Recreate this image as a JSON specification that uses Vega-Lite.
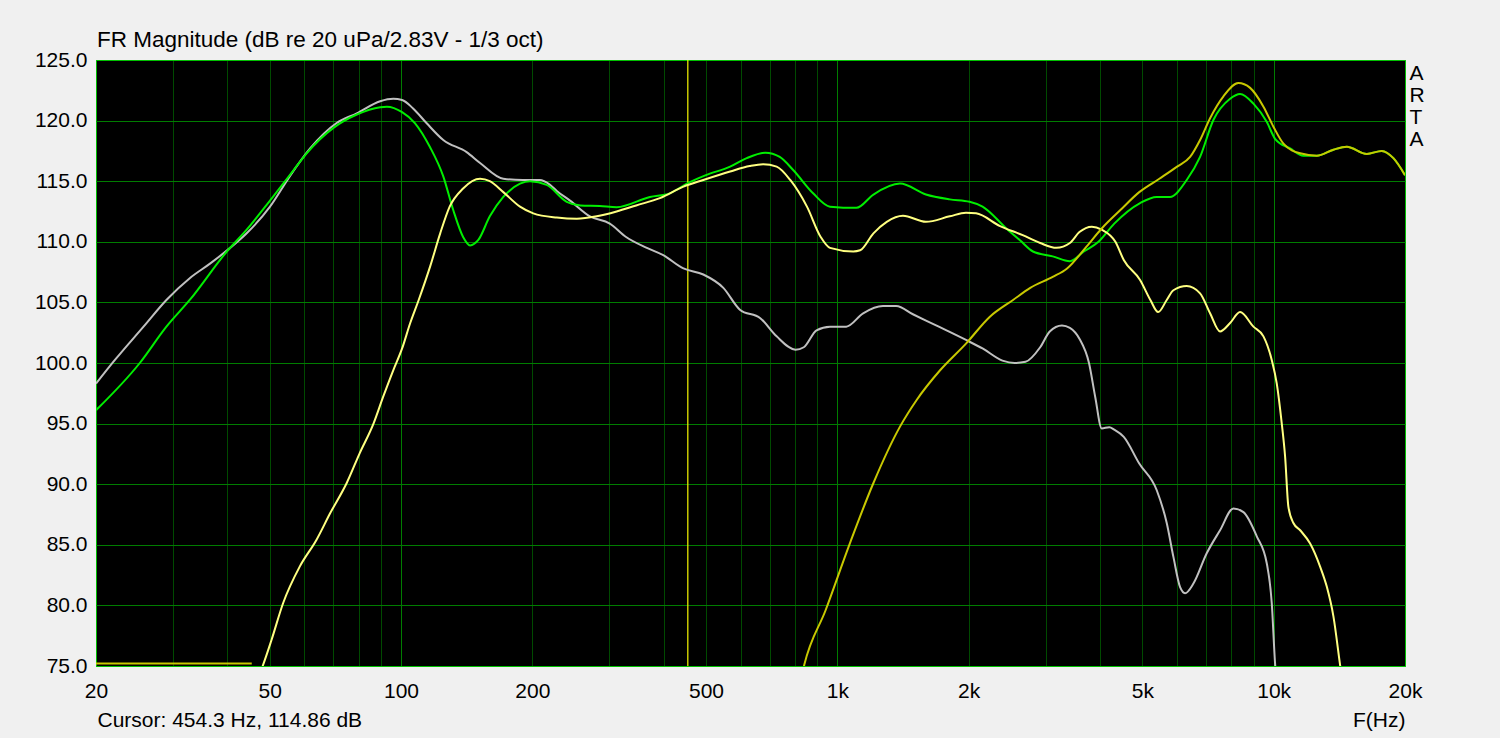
{
  "$schema": "https://vega.github.io/schema/vega-lite/v6.json",
  "width": 1309,
  "height": 606,
  "autosize": {"type": "none"},
  "padding": {"left": 96, "top": 60, "right": 95, "bottom": 72},
  "background": "#f0f0f0",
  "config": {"font": "Liberation Sans", "view": {"fill": "#000000", "stroke": "#00c000", "strokeWidth": 1}},
  "title": {"text": "FR Magnitude (dB re 20 uPa/2.83V - 1/3 oct)", "anchor": "start", "frame": "group", "fontSize": 22.5, "fontWeight": "normal", "color": "#000000", "baseline": "alphabetic", "offset": 1, "dx": 1, "dy": 21},
  "datasets": {
    "cursor": [{"f": 454.3}],
    "floor": [{"f": 20, "db": 75.2}, {"f": 45.5, "db": 75.2}],
    "gray": [
      {"f": 20, "db": 98.3}, {"f": 22.1, "db": 100.25}, {"f": 25.7, "db": 103.0}, {"f": 29.0, "db": 105.2}, {"f": 32.8, "db": 107.0},
      {"f": 36.5, "db": 108.2}, {"f": 40.6, "db": 109.5}, {"f": 44.3, "db": 110.7}, {"f": 50.1, "db": 112.9}, {"f": 55.6, "db": 115.4},
      {"f": 61.9, "db": 117.7}, {"f": 71.2, "db": 119.8}, {"f": 79.2, "db": 120.6}, {"f": 89.6, "db": 121.6}, {"f": 96, "db": 121.8},
      {"f": 100.6, "db": 121.7}, {"f": 106.6, "db": 121.0}, {"f": 114.4, "db": 119.8}, {"f": 125, "db": 118.4}, {"f": 141.4, "db": 117.4},
      {"f": 151.8, "db": 116.5}, {"f": 171.6, "db": 115.2}, {"f": 190, "db": 115.1}, {"f": 208, "db": 115.1}, {"f": 219.6, "db": 114.7},
      {"f": 227.5, "db": 114.2}, {"f": 244, "db": 113.4}, {"f": 271, "db": 112.1}, {"f": 301, "db": 111.5}, {"f": 328, "db": 110.4},
      {"f": 366, "db": 109.5}, {"f": 399, "db": 108.9}, {"f": 444, "db": 107.8}, {"f": 493, "db": 107.3}, {"f": 548, "db": 106.2},
      {"f": 598, "db": 104.4}, {"f": 666, "db": 103.7}, {"f": 726, "db": 102.2}, {"f": 802, "db": 101.1}, {"f": 838, "db": 101.3},
      {"f": 896, "db": 102.7}, {"f": 962, "db": 103.0}, {"f": 1048, "db": 103.0}, {"f": 1146, "db": 104.1}, {"f": 1272, "db": 104.7},
      {"f": 1364, "db": 104.7}, {"f": 1494, "db": 104.0}, {"f": 1684, "db": 103.1}, {"f": 1972, "db": 101.9}, {"f": 2152, "db": 101.2},
      {"f": 2390, "db": 100.2}, {"f": 2550, "db": 100.0}, {"f": 2700, "db": 100.1}, {"f": 2917, "db": 101.3}, {"f": 3068, "db": 102.6},
      {"f": 3272, "db": 103.1}, {"f": 3412, "db": 102.9}, {"f": 3588, "db": 102.0}, {"f": 3774, "db": 100.0}, {"f": 3900, "db": 97.2},
      {"f": 4036, "db": 94.6}, {"f": 4200, "db": 94.7}, {"f": 4312, "db": 94.5}, {"f": 4534, "db": 93.9}, {"f": 4920, "db": 91.7},
      {"f": 5396, "db": 89.5}, {"f": 5688, "db": 86.8}, {"f": 5892, "db": 84.0}, {"f": 6104, "db": 81.5}, {"f": 6266, "db": 81.0},
      {"f": 6548, "db": 81.8}, {"f": 7024, "db": 84.3}, {"f": 7536, "db": 86.2}, {"f": 8086, "db": 88.0}, {"f": 8526, "db": 87.7},
      {"f": 9148, "db": 85.7}, {"f": 9640, "db": 83.5}, {"f": 9900, "db": 80.2}, {"f": 10076, "db": 75.2}, {"f": 10200, "db": 73.0}
    ],
    "green": [
      {"f": 20, "db": 96.1}, {"f": 25.2, "db": 100.0}, {"f": 29.0, "db": 103.0}, {"f": 32.8, "db": 105.2}, {"f": 39.9, "db": 109.2},
      {"f": 44.3, "db": 111.0}, {"f": 50.1, "db": 113.4}, {"f": 56.7, "db": 115.9}, {"f": 60.8, "db": 117.3}, {"f": 70.0, "db": 119.4},
      {"f": 79.2, "db": 120.5}, {"f": 89.6, "db": 121.1}, {"f": 92.8, "db": 121.15}, {"f": 100.6, "db": 120.7}, {"f": 107.6, "db": 119.8},
      {"f": 116.6, "db": 117.8}, {"f": 125, "db": 115.4}, {"f": 131.8, "db": 112.6}, {"f": 138.8, "db": 110.4}, {"f": 144, "db": 109.7},
      {"f": 150.4, "db": 110.15}, {"f": 159.8, "db": 112.1}, {"f": 171.6, "db": 113.7}, {"f": 187.4, "db": 114.8}, {"f": 197.6, "db": 115.0},
      {"f": 215.8, "db": 114.7}, {"f": 239.8, "db": 113.3}, {"f": 257.6, "db": 113.0}, {"f": 285.6, "db": 112.95}, {"f": 312, "db": 112.85},
      {"f": 372, "db": 113.7}, {"f": 413, "db": 114.0}, {"f": 452, "db": 114.8}, {"f": 500, "db": 115.5}, {"f": 568, "db": 116.2},
      {"f": 620, "db": 116.9}, {"f": 684, "db": 117.35}, {"f": 738, "db": 117.0}, {"f": 793, "db": 115.9}, {"f": 880, "db": 114.0},
      {"f": 962, "db": 112.9}, {"f": 1106, "db": 112.8}, {"f": 1210, "db": 113.9}, {"f": 1392, "db": 114.8}, {"f": 1596, "db": 113.9},
      {"f": 1810, "db": 113.5}, {"f": 2010, "db": 113.3}, {"f": 2152, "db": 112.9}, {"f": 2440, "db": 111.1}, {"f": 2626, "db": 110.1},
      {"f": 2808, "db": 109.2}, {"f": 3116, "db": 108.8}, {"f": 3412, "db": 108.4}, {"f": 3672, "db": 109.2}, {"f": 3968, "db": 110.0},
      {"f": 4312, "db": 111.5}, {"f": 4942, "db": 113.2}, {"f": 5396, "db": 113.7}, {"f": 5788, "db": 113.7}, {"f": 6320, "db": 115.1},
      {"f": 6782, "db": 117.0}, {"f": 7276, "db": 120.05}, {"f": 7946, "db": 121.8}, {"f": 8376, "db": 122.2}, {"f": 8988, "db": 121.4},
      {"f": 9640, "db": 119.9}, {"f": 10076, "db": 118.5}, {"f": 10906, "db": 117.7}, {"f": 11700, "db": 117.1}, {"f": 12560, "db": 117.1},
      {"f": 13708, "db": 117.6}, {"f": 14712, "db": 117.85}, {"f": 16350, "db": 117.25}, {"f": 17696, "db": 117.5}, {"f": 18812, "db": 116.9},
      {"f": 20000, "db": 115.5}
    ],
    "lightyellow": [
      {"f": 47.5, "db": 74.4}, {"f": 48.2, "db": 75.0}, {"f": 50.5, "db": 77.15}, {"f": 53.7, "db": 80.2}, {"f": 58.6, "db": 83.2},
      {"f": 64.0, "db": 85.4}, {"f": 68.8, "db": 87.6}, {"f": 75.1, "db": 90.1}, {"f": 80.4, "db": 92.55}, {"f": 86.5, "db": 95.0},
      {"f": 91.0, "db": 97.2}, {"f": 96, "db": 99.4}, {"f": 100.6, "db": 101.2}, {"f": 105, "db": 103.3}, {"f": 109.8, "db": 105.2},
      {"f": 116.6, "db": 107.95}, {"f": 123, "db": 110.7}, {"f": 129.3, "db": 112.9}, {"f": 138.8, "db": 114.4}, {"f": 151.8, "db": 115.2},
      {"f": 159.8, "db": 115.0}, {"f": 171.6, "db": 114.1}, {"f": 187.4, "db": 112.9}, {"f": 201, "db": 112.35}, {"f": 227.5, "db": 112.0},
      {"f": 253, "db": 111.9}, {"f": 281, "db": 112.1}, {"f": 312, "db": 112.5}, {"f": 346, "db": 113.0}, {"f": 392, "db": 113.6},
      {"f": 444, "db": 114.55}, {"f": 493, "db": 115.1}, {"f": 568, "db": 115.8}, {"f": 630, "db": 116.25}, {"f": 676, "db": 116.4},
      {"f": 726, "db": 116.2}, {"f": 780, "db": 115.1}, {"f": 852, "db": 112.9}, {"f": 916, "db": 110.4}, {"f": 962, "db": 109.5},
      {"f": 1088, "db": 109.2}, {"f": 1128, "db": 109.3}, {"f": 1210, "db": 110.7}, {"f": 1298, "db": 111.65}, {"f": 1414, "db": 112.15},
      {"f": 1596, "db": 111.65}, {"f": 1810, "db": 112.1}, {"f": 1972, "db": 112.4}, {"f": 2080, "db": 112.35}, {"f": 2360, "db": 111.3},
      {"f": 2660, "db": 110.55}, {"f": 2917, "db": 109.9}, {"f": 3178, "db": 109.5}, {"f": 3412, "db": 109.9}, {"f": 3588, "db": 110.8},
      {"f": 3832, "db": 111.25}, {"f": 4036, "db": 111.0}, {"f": 4338, "db": 110.0}, {"f": 4534, "db": 108.5}, {"f": 4942, "db": 106.85},
      {"f": 5218, "db": 105.2}, {"f": 5436, "db": 104.2}, {"f": 5688, "db": 105.2}, {"f": 5892, "db": 106.0}, {"f": 6320, "db": 106.35},
      {"f": 6782, "db": 105.75}, {"f": 7150, "db": 104.1}, {"f": 7536, "db": 102.6}, {"f": 7946, "db": 103.3}, {"f": 8376, "db": 104.2},
      {"f": 8988, "db": 103.0}, {"f": 9476, "db": 102.2}, {"f": 9900, "db": 100.25}, {"f": 10166, "db": 98.3}, {"f": 10438, "db": 95.0},
      {"f": 10622, "db": 92.3}, {"f": 10808, "db": 88.15}, {"f": 11098, "db": 86.8}, {"f": 11502, "db": 86.2}, {"f": 12122, "db": 85.1},
      {"f": 12778, "db": 83.2}, {"f": 13236, "db": 81.55}, {"f": 13708, "db": 79.1}, {"f": 14198, "db": 75.1}, {"f": 14300, "db": 74.3}
    ],
    "darkyellow": [
      {"f": 830, "db": 74.3}, {"f": 840, "db": 75.1}, {"f": 940, "db": 79.6}, {"f": 1068, "db": 85.1}, {"f": 1210, "db": 90.1},
      {"f": 1392, "db": 94.75}, {"f": 1520, "db": 96.95}, {"f": 1720, "db": 99.4}, {"f": 1972, "db": 101.6}, {"f": 2234, "db": 103.8},
      {"f": 2528, "db": 105.2}, {"f": 2768, "db": 106.2}, {"f": 3116, "db": 107.1}, {"f": 3362, "db": 107.8}, {"f": 3724, "db": 109.6},
      {"f": 4036, "db": 111.1}, {"f": 4448, "db": 112.6}, {"f": 4920, "db": 114.1}, {"f": 5470, "db": 115.2}, {"f": 6008, "db": 116.2},
      {"f": 6434, "db": 117.0}, {"f": 6782, "db": 118.4}, {"f": 7150, "db": 120.2}, {"f": 7672, "db": 122.0}, {"f": 8302, "db": 123.1},
      {"f": 8832, "db": 122.7}, {"f": 9476, "db": 121.15}, {"f": 9988, "db": 119.5}, {"f": 10530, "db": 118.1}, {"f": 11502, "db": 117.3},
      {"f": 12560, "db": 117.1}, {"f": 13708, "db": 117.6}, {"f": 14712, "db": 117.85}, {"f": 16350, "db": 117.25}, {"f": 17696, "db": 117.5},
      {"f": 18812, "db": 116.9}, {"f": 20000, "db": 115.5}
    ]
  },
  "layer": [
    {
      "data": {"name": "cursor"},
      "mark": {"type": "rule", "color": "#e6e600", "strokeWidth": 1.3},
      "encoding": {
        "x": {
          "field": "f", "type": "quantitative",
          "scale": {"type": "log", "domain": [20, 20000], "nice": false},
          "axis": {
            "values": [20, 30, 40, 50, 60, 70, 80, 90, 100, 200, 300, 400, 500, 600, 700, 800, 900, 1000, 2000, 3000, 4000, 5000, 6000, 7000, 8000, 9000, 10000, 20000],
            "labelExpr": "indexof([20,50,100,200,500,1000,2000,5000,10000,20000], datum.value) >= 0 ? (datum.value >= 1000 ? (datum.value / 1000) + 'k' : '' + datum.value) : ''",
            "labelFontSize": 21, "labelColor": "#000000", "labelBaseline": "alphabetic", "labelPadding": 31,
            "labelFlush": false, "labelOverlap": false, "labelBound": false,
            "ticks": false, "tickSize": 0, "domain": false,
            "grid": true, "gridWidth": 1,
            "gridColor": {"condition": [
              {"test": "datum.value == 20 || datum.value == 20000", "value": "#00c000"},
              {"test": "datum.value == 100 || datum.value == 1000 || datum.value == 10000", "value": "#007d00"}
            ], "value": "#004a00"},
            "title": "F(Hz)", "titleFontSize": 21, "titleFontWeight": "normal", "titleColor": "#000000",
            "titleAlign": "right", "titleBaseline": "alphabetic", "titleX": 1309, "titleY": 60
          }
        }
      }
    },
    {
      "data": {"name": "gray"},
      "mark": {"type": "line", "clip": true, "color": "#c0c0c0", "strokeWidth": 2, "interpolate": "monotone"},
      "encoding": {
        "x": {"field": "f", "type": "quantitative"},
        "y": {
          "field": "db", "type": "quantitative",
          "scale": {"domain": [75, 125], "nice": false, "zero": false},
          "axis": {
            "values": [75, 80, 85, 90, 95, 100, 105, 110, 115, 120, 125], "format": ".1f",
            "labelFontSize": 21, "labelColor": "#000000", "labelBaseline": "middle", "labelPadding": 9,
            "labelFlush": false, "labelOverlap": false, "labelBound": false,
            "ticks": false, "tickSize": 0, "domain": false,
            "grid": true, "gridWidth": 1,
            "gridColor": {"condition": {"test": "datum.value == 75 || datum.value == 125", "value": "#00c000"}, "value": "#007d00"},
            "title": "Cursor: 454.3 Hz, 114.86 dB", "titleAngle": 0, "titleAlign": "left", "titleBaseline": "alphabetic",
            "titleX": 1, "titleY": 666, "titleFontSize": 21, "titleFontWeight": "normal", "titleColor": "#000000"
          }
        }
      }
    },
    {
      "data": {"name": "green"},
      "mark": {"type": "line", "clip": true, "color": "#00ee00", "strokeWidth": 2, "interpolate": "monotone"},
      "encoding": {"x": {"field": "f", "type": "quantitative"}, "y": {"field": "db", "type": "quantitative", "axis": null}}
    },
    {
      "data": {"name": "lightyellow"},
      "mark": {"type": "line", "clip": true, "color": "#ffff80", "strokeWidth": 2, "interpolate": "monotone"},
      "encoding": {"x": {"field": "f", "type": "quantitative"}, "y": {"field": "db", "type": "quantitative", "axis": null}}
    },
    {
      "data": {"name": "darkyellow"},
      "mark": {"type": "line", "clip": true, "color": "#c8c800", "strokeWidth": 2, "interpolate": "monotone"},
      "encoding": {"x": {"field": "f", "type": "quantitative"}, "y": {"field": "db", "type": "quantitative", "axis": null}}
    },
    {
      "data": {"name": "floor"},
      "mark": {"type": "line", "clip": true, "color": "#c8c800", "strokeWidth": 2},
      "encoding": {
        "x": {"field": "f", "type": "quantitative"},
        "y": {
          "field": "db", "type": "quantitative",
          "axis": {
            "orient": "right", "labels": false, "ticks": false, "domain": false, "grid": false,
            "title": ["A", "R", "T", "A"], "titleAngle": 0, "titleAlign": "left", "titleBaseline": "alphabetic",
            "titleX": 4, "titleY": 19, "titleLineHeight": 22.3, "titleFontSize": 21, "titleFontWeight": "normal", "titleColor": "#000000"
          }
        }
      }
    }
  ],
  "resolve": {"axis": {"y": "independent"}}
}
